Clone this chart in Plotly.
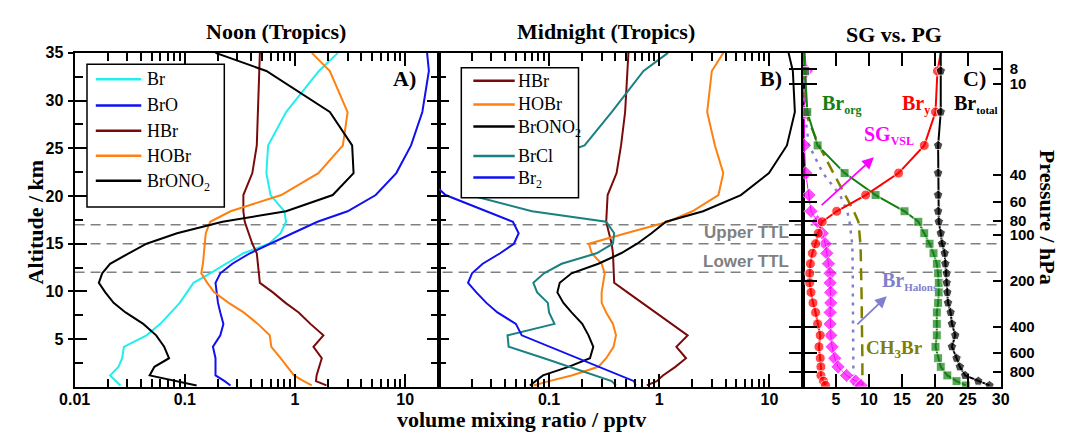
import numpy as np
import plotly.graph_objects as go

# ---------------- data ----------------
alt_km = [35.0, 33.1, 28.8, 25.3, 22.4, 20.1, 18.4, 17.3, 16.1, 15.0, 14.0, 12.9, 11.9,
          10.9, 9.9, 8.8, 7.8, 6.6, 5.4, 4.2, 3.0, 2.1, 1.2, 0.6, 0.15]

# Panel A: noon (pptv)
noon_br = [2.45, 1.65, 0.83, 0.57, 0.55, 0.60, 0.80, 0.83, 0.74, 0.58, 0.34, 0.24, 0.17,
           0.12, 0.105, 0.09, 0.075, 0.06, 0.045, 0.028, 0.027, 0.025, 0.021, 0.024, 0.026]
noon_bro = [15.8, 16.4, 14.3, 11.3, 8.3, 5.4, 3.0, 1.6, 0.95, 0.59, 0.39, 0.27, 0.21,
            0.19, 0.195, 0.2, 0.21, 0.224, 0.21, 0.18, 0.19, 0.19, 0.19, 0.23, 0.26]
noon_hbr = [0.48, 0.475, 0.46, 0.45, 0.41, 0.34, 0.34, 0.35, 0.38, 0.41, 0.45, 0.46, 0.47,
            0.48, 0.63, 0.82, 1.08, 1.38, 1.81, 1.47, 1.75, 1.65, 1.57, 1.55, 1.93]
noon_hobr = [1.42, 2.07, 3.0, 2.72, 1.63, 0.75, 0.26, 0.17, 0.155, 0.152, 0.15, 0.146, 0.141,
             0.16, 0.185, 0.25, 0.342, 0.46, 0.59, 0.61, 0.74, 0.86, 0.98, 1.2, 1.42]
noon_brono2 = [0.19, 0.55, 2.07, 3.3, 3.4, 2.2, 0.83, 0.22, 0.085, 0.045, 0.031, 0.021, 0.0178,
               0.0166, 0.019, 0.0226, 0.029, 0.042, 0.055, 0.065, 0.072, 0.053, 0.048, 0.082, 0.128]

# Panel B: midnight (pptv)
mid_hbr = [0.525, 0.515, 0.49, 0.45, 0.41, 0.34, 0.335, 0.33, 0.35, 0.37, 0.38, 0.385, 0.39,
           0.39, 0.515, 0.7, 0.95, 1.3, 1.81, 1.43, 1.75, 1.4, 1.08, 0.95, 0.77]
mid_hobr = [3.81, 3.0, 2.72, 3.2, 3.81, 3.44, 2.0, 1.2, 0.5, 0.23, 0.244, 0.30, 0.32,
            0.31, 0.30, 0.30, 0.33, 0.38, 0.405, 0.385, 0.33, 0.28, 0.16, 0.10, 0.072]
mid_brono2 = [14.9, 16.3, 17.0, 14.4, 9.9, 5.5, 2.5, 1.15, 0.85, 0.63, 0.45, 0.28, 0.16,
              0.125, 0.119, 0.135, 0.16, 0.2, 0.228, 0.252, 0.235, 0.15, 0.088, 0.075, 0.067]
mid_brcl = [1.2, 0.72, 0.37, 0.21, 0.04, 0.019, 0.07, 0.33, 0.39, 0.38, 0.27, 0.13, 0.09,
            0.072, 0.078, 0.0975, 0.1, 0.112, 0.042, 0.043, 0.09, 0.155, 0.27, 0.37, 0.405]
mid_br2 = [None, None, None, None, 0.007, 0.0115, 0.027, 0.047, 0.053, 0.048, 0.036, 0.025, 0.02,
           0.0184, 0.0219, 0.027, 0.034, 0.05, 0.0565, 0.101, 0.18, 0.28, 0.44, 0.59, 0.61]

# Panel C: source gas vs product gas (pptv)
c_br_total = [20.9, 20.9, 20.9, 20.5, 20.5, 20.5, 20.5, 20.6, 20.9, 21.1, 21.5, 21.6, 21.8,
              21.8, 21.9, 22.0, 22.4, 22.6, 23.1, 22.6, 23.3, 23.8, 24.6, 26.6, 28.3]
c_br_y = [20.9, 20.4, 20.1, 18.4, 14.5, 9.5, 5.1, 2.9, 2.3, 1.9, 1.4, 1.1, 1.0,
          1.0, 1.2, 1.5, 1.9, 2.2, 2.6, 2.4, 2.6, 2.7, 2.7, 3.1, 3.4]
c_br_org = [0.15, 0.3, 0.64, 2.2, 6.3, 11.0, 15.4, 17.5, 18.4, 19.2, 19.8, 20.3, 20.5,
            20.6, 20.6, 20.5, 20.3, 20.3, 20.3, 20.1, 20.5, 20.9, 21.9, 23.3, 24.7]
c_sg_vsl = [0.3, 0.5, 0.2, 0.2, 0.4, 0.9, 1.2, 2.2, 2.9, 3.35, 3.6, 3.85, 4.1,
            4.1, 4.2, 4.2, 4.1, 4.1, 4.2, 4.4, 4.8, 5.3, 6.6, 8.0, 8.8]
c_ch3br = [0.0, 0.05, 0.3, 2.4, 4.6, 6.4, 7.7, 8.4, 8.6, 8.7, 8.75, 8.8, 8.85,
           8.85, 8.9, 8.9, 8.9, 8.95, 8.95, 9.0, 9.0, 9.0, 9.0, 9.0, 9.0]
c_halons = [0.0, 0.05, 0.2, 0.9, 3.0, 5.6, 6.7, 7.05, 7.3, 7.45, 7.5, 7.55, 7.55,
            7.55, 7.55, 7.55, 7.55, 7.55, 7.6, 7.6, 7.6, 7.6, 7.6, 7.65, 7.65]

pressure_ticks_hpa = [8, 10, 40, 60, 80, 100, 200, 400, 600, 800]
ttl_levels_km = [17, 15, 12]
vmr_major = [0.01, 0.1, 1, 10]
panel_c_xticks = [5, 10, 15, 20, 25, 30]
alt_ticks = [5, 10, 15, 20, 25, 30, 35]
alt_minor = [2.5, 7.5, 12.5, 17.5, 22.5, 27.5, 32.5]

# ---------------- layout helpers ----------------
W, H = 1067, 433
def px(v):
    return v / W
def py(v):
    return 1 - v / H

xa = [px(60), px(433)]
xb = [px(433), px(806)]
xc = [px(806), px(1008.3)]
ydom = [py(386), py(45.7)]
LOGR = [-2, np.log10(20.2)]

# scale-height conversion pressure -> altitude for the pressure axis
H_SCALE, P0 = 6.9, 1000.0
p_alt = [H_SCALE * np.log(P0 / p) for p in pressure_ticks_hpa]

vmr_minor = [k * d for d in vmr_major for k in range(2, 10) if k * d < 20]

SERIF = "Liberation Serif, Times New Roman, serif"
SANS = "Liberation Sans, Arial, sans-serif"
tickfont = dict(family=SANS, size=16, color="black", weight="bold")

C_BR, C_BRO, C_HBR, C_HOBR, C_BRONO2 = "#22EEEE", "#1010F0", "#7A0A0A", "#FF8010", "#000000"
C_BRCL, C_BR2 = "#1A8080", "#1010F0"

fig = go.Figure()

def line(x, y, name, color, xa_, ya_, width=2):
    fig.add_trace(go.Scatter(x=x, y=y, mode="lines", name=name, line=dict(color=color, width=width),
                             xaxis=xa_, yaxis=ya_, showlegend=False))

# Panel A
line(noon_br, alt_km, "Br", C_BR, "x", "y")
line(noon_bro, alt_km, "BrO", C_BRO, "x", "y")
line(noon_hbr, alt_km, "HBr", C_HBR, "x", "y")
line(noon_hobr, alt_km, "HOBr", C_HOBR, "x", "y")
line(noon_brono2, alt_km, "BrONO2", C_BRONO2, "x", "y")

# Panel B
line(mid_hbr, alt_km, "HBr", C_HBR, "x2", "y2")
line(mid_hobr, alt_km, "HOBr", C_HOBR, "x2", "y2")
line(mid_brono2, alt_km, "BrONO2", C_BRONO2, "x2", "y2")
line(mid_brcl, alt_km, "BrCl", C_BRCL, "x2", "y2")
line(mid_br2, alt_km, "Br2", C_BR2, "x2", "y2")

# Panel C
def msz(s):
    return [0] + [s] * (len(alt_km) - 1)

fig.add_trace(go.Scatter(x=c_ch3br, y=alt_km, mode="lines", line=dict(color="#808000", width=2.5, dash="12px,7px"),
                         xaxis="x3", yaxis="y3", showlegend=False, name="CH3Br"))
fig.add_trace(go.Scatter(x=c_halons, y=alt_km, mode="lines", line=dict(color="#7F7FCC", width=2.5, dash="3px,6px"),
                         xaxis="x3", yaxis="y3", showlegend=False, name="Br Halons"))
fig.add_trace(go.Scatter(x=c_sg_vsl, y=alt_km, mode="lines+markers", line=dict(color="#FF00FF", width=1),
                         marker=dict(symbol="diamond", size=msz(11), color="#FF00FF"),
                         xaxis="x3", yaxis="y3", showlegend=False, name="SG VSL"))
fig.add_trace(go.Scatter(x=c_br_org, y=alt_km, mode="lines+markers", line=dict(color="#138013", width=2),
                         marker=dict(symbol="square", size=msz(9), color="#138013"),
                         xaxis="x3", yaxis="y3", showlegend=False, name="Br org"))
fig.add_trace(go.Scatter(x=c_br_y, y=alt_km, mode="lines+markers", line=dict(color="#FF0000", width=2),
                         marker=dict(symbol="circle", size=msz(10), color="#FF0000"),
                         xaxis="x3", yaxis="y3", showlegend=False, name="Br y"))
fig.add_trace(go.Scatter(x=c_br_total, y=alt_km, mode="lines+markers", line=dict(color="#000000", width=2),
                         marker=dict(symbol="pentagon", size=msz(10), color="#000000"),
                         xaxis="x3", yaxis="y3", showlegend=False, name="Br total"))

# dummy traces so overlay axes are drawn
for xa_, ya_ in [("x3", "y4"), ("x2", "y5"), ("x", "y6")]:
    fig.add_trace(go.Scatter(x=[None], y=[None], xaxis=xa_, yaxis=ya_, showlegend=False, hoverinfo="skip"))

axis_common = dict(showgrid=False, zeroline=False, showline=True, linecolor="black", linewidth=2,
                   tickcolor="black", tickwidth=2, tickfont=tickfont)

fig.update_layout(
    width=W, height=H, margin=dict(l=0, r=0, t=0, b=0),
    paper_bgcolor="white", plot_bgcolor="white", showlegend=False,
    xaxis=dict(domain=xa, anchor="y", type="log", range=LOGR, tickvals=vmr_major,
               ticktext=["0.01", "0.1", "1", "10"], ticks="inside", ticklen=13, mirror="ticks",
               minor=dict(tickvals=vmr_minor, ticks="inside", ticklen=8, tickwidth=1.5, tickcolor="black"),
               ticklabelstandoff=-3, **axis_common),
    xaxis2=dict(domain=xb, anchor="y2", type="log", range=LOGR, tickvals=vmr_major[1:],
                ticktext=["0.1", "1", "10"], ticks="inside", ticklen=13, mirror="ticks",
                minor=dict(tickvals=vmr_minor, ticks="inside", ticklen=8, tickwidth=1.5, tickcolor="black"),
                ticklabelstandoff=-3, **axis_common),
    xaxis3=dict(domain=xc, anchor="y3", range=[0, 30], tickvals=panel_c_xticks,
                ticks="inside", ticklen=13, mirror="ticks", ticklabelstandoff=-3, **axis_common),
    yaxis=dict(domain=ydom, anchor="x", range=[0, 35], tickvals=alt_ticks, ticks="inside", ticklen=12,
               mirror="ticks", minor=dict(tickvals=alt_minor, ticks="inside", ticklen=8, tickwidth=1.5, tickcolor="black"),
               ticklabelstandoff=6, **axis_common),
    yaxis6=dict(overlaying="y", anchor="x", side="left", range=[0, 35], tickvals=alt_ticks, ticks="outside",
                ticklen=6, showticklabels=False, showline=False, showgrid=False, zeroline=False,
                tickcolor="black", tickwidth=2),
    yaxis2=dict(domain=ydom, anchor="x2", range=[0, 35], tickvals=alt_ticks, ticks="inside", ticklen=10,
                mirror=True, showticklabels=False,
                minor=dict(tickvals=alt_minor, ticks="inside", ticklen=7, tickwidth=1.5, tickcolor="black"),
                **axis_common),
    yaxis5=dict(overlaying="y2", anchor="x2", side="right", range=[0, 35], tickvals=p_alt, ticks="inside",
                ticklen=14, showticklabels=False, showline=False, showgrid=False, zeroline=False,
                tickcolor="black", tickwidth=2),
    yaxis3=dict(domain=ydom, anchor="x3", range=[0, 35], tickvals=p_alt, ticks="inside", ticklen=14,
                showticklabels=False, **axis_common),
    yaxis4=dict(overlaying="y3", anchor="x3", side="right", range=[0, 35], tickvals=p_alt,
                ticktext=[str(p) for p in pressure_ticks_hpa], ticks="inside", ticklen=8,
                ticklabelstandoff=4, showgrid=False, zeroline=False, showline=True, linecolor="black",
                linewidth=2, tickcolor="black", tickwidth=2,
                tickfont=dict(family=SANS, size=15, color="black", weight="bold")),
)

# TTL dashed lines
for lev in ttl_levels_km:
    fig.add_shape(type="line", xref="paper", x0=px(60), x1=px(1008.3), yref="y", y0=lev, y1=lev,
                  line=dict(color="#808080", width=1.5, dash="10px,6px"), layer="below")

def ann(text, x, y, size=22, color="black", family=SERIF, angle=0, xanchor="center", xref="paper", yref="paper", yanchor="middle"):
    fig.add_annotation(text=text, x=x, y=y, xref=xref, yref=yref, showarrow=False, textangle=angle,
                       font=dict(family=family, size=size, color=color), xanchor=xanchor, yanchor=yanchor)

def sub(t, s=12):
    return "<sub><span style='font-size:%dpx'>%s</span></sub>" % (s, t)

# ---------- legend boxes (panel A and panel B) ----------
def legend_box(x0, y0, x1, y1, entries, lx0, lx1, tx):
    fig.add_shape(type="rect", xref="paper", yref="paper", x0=px(x0), x1=px(x1), y0=py(y1), y1=py(y0),
                  fillcolor="white", line=dict(color="black", width=1.5), layer="above")
    for label, color, yy in entries:
        fig.add_shape(type="line", xref="paper", yref="paper", x0=px(lx0), x1=px(lx1), y0=py(yy), y1=py(yy),
                      line=dict(color=color, width=2.5), layer="above")
        off = 2 if "<sub>" in label else 0
        ann(label, px(tx), py(yy + off), size=18, xanchor="left")

legend_box(72.7, 57.3, 213.3, 202.7,
           [("Br", C_BR, 72.7), ("BrO", C_BRO, 99.3), ("HBr", C_HBR, 125), ("HOBr", C_HOBR, 150.5),
            ("BrONO" + sub("2", 12), C_BRONO2, 176)],
           81.7, 128.3, 132.5)
legend_box(456, 61, 576, 193.3,
           [("HBr", C_HBR, 74), ("HOBr", C_HOBR, 98.3), ("BrONO" + sub("2", 12), C_BRONO2, 120.7),
            ("BrCl", C_BRCL, 150.7), ("Br" + sub("2", 12), C_BR2, 172.7)],
           468.3, 510.7, 511.5)

ann("<b>Noon (Tropics)</b>", px(266), py(24))
ann("<b>Midnight (Tropics)</b>", px(604), py(24))
ann("<b>SG vs. PG</b>", px(899), py(27))
ann("<b>Altitude / km</b>", px(20), py(218), angle=-90)
ann("<b>volume mixing ratio / pptv</b>", px(518), py(419))
ann("<b>Pressure / hPa</b>", px(1057), py(213), angle=90)
ann("<b>A)</b>", px(398), py(72))
ann("<b>B)</b>", px(773), py(72))
ann("<b>C)</b>", px(982), py(72))
ann("<b>Upper TTL</b>", px(748), py(229), size=17, color="#808080", family=SANS)
ann("<b>Lower TTL</b>", px(748), py(258), size=17, color="#808080", family=SANS)

# panel C labels
ann("<b>Br" + sub("org") + "</b>", 2.6, 29.6, size=20, color="#138013", xanchor="left", xref="x3", yref="y3")
ann("<b>Br" + sub("y") + "</b>", 14.7, 29.6, size=20, color="#FF0000", xanchor="left", xref="x3", yref="y3")
ann("<b>Br" + sub("total", 11) + "</b>", 22.6, 29.6, size=20, color="black", xanchor="left", xref="x3", yref="y3")
ann("<b>SG" + sub("VSL") + "</b>", 9.0, 26.3, size=20, color="#FF00FF", xanchor="left", xref="x3", yref="y3")
ann("<b>Br" + sub("Halons", 11) + "</b>", 11.75, 11.1, size=20, color="#7F7FCC", xanchor="left", xref="x3", yref="y3")
ann("<b>CH" + sub("3", 13) + "Br</b>", 9.3, 4.0, size=19, color="#808000", xanchor="left", xref="x3", yref="y3")

# arrows
fig.add_annotation(x=10.75, y=24.05, ax=2.6, ay=18.9, xref="x3", yref="y3", axref="x3", ayref="y3",
                   showarrow=True, arrowhead=2, arrowsize=1.3, arrowwidth=1.8, arrowcolor="#FF00FF", text="")
fig.add_annotation(x=12.7, y=9.5, ax=8.0, ay=6.4, xref="x3", yref="y3", axref="x3", ayref="y3",
                   showarrow=True, arrowhead=2, arrowsize=1.3, arrowwidth=1.8, arrowcolor="#7F7FCC", text="")

fig.write_html("out.html")
